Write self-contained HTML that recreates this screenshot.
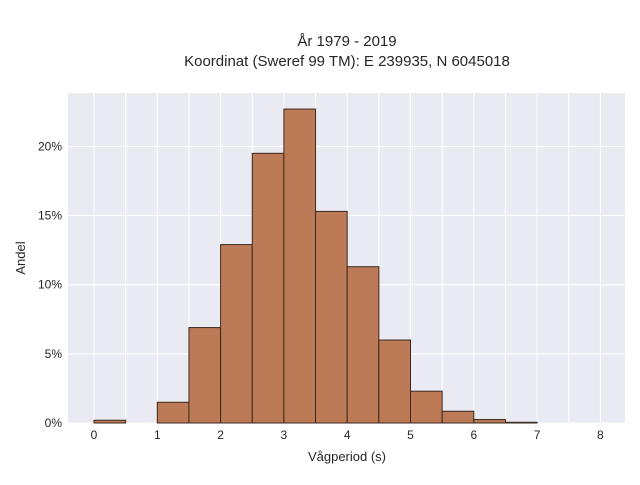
<!DOCTYPE html>
<html><head><meta charset="utf-8"><style>
body{margin:0;background:#fff;}
svg{font-family:"Liberation Sans",sans-serif;}
</style></head><body>
<svg id="c" width="640" height="480">
<text x="347" y="46" text-anchor="middle" font-size="15" fill="#262626">År 1979 - 2019</text>
<text x="347" y="66" text-anchor="middle" font-size="15" fill="#262626">Koordinat (Sweref 99 TM): E 239935, N 6045018</text>
<rect x="68" y="93" width="557" height="330" fill="#eaeaf2"/>
<g id="grid"></g><g id="bars"></g><g id="ticks"></g>
<text x="347" y="461" text-anchor="middle" font-size="13" fill="#262626">Vågperiod (s)</text>
<text transform="translate(25,258) rotate(-90)" text-anchor="middle" font-size="13" fill="#262626">Andel</text>
</svg>
<script>
const binStarts=[0,0.5,1,1.5,2,2.5,3,3.5,4,4.5,5,5.5,6,6.5];
const binShares=[0.2,0,1.5,6.9,12.9,19.5,22.7,15.3,11.3,6.0,2.3,0.85,0.25,0.05];
const xTicks=[0,1,2,3,4,5,6,7,8];
const yTicks=[0,5,10,15,20];
const binWidth=0.5;
const X=v=>94+v*63.3, Y=v=>423-v*13.83;
const ns="http://www.w3.org/2000/svg";
function mk(t,a,p){const e=document.createElementNS(ns,t);for(const k in a)e.setAttribute(k,a[k]);p.appendChild(e);return e;}
const g=document.getElementById('grid'),b=document.getElementById('bars'),tk=document.getElementById('ticks');
for(let v=0;v<=8.5;v+=0.5){const l=mk('line',{x1:X(v),x2:X(v),y1:93,y2:423,stroke:'#fff','stroke-width':1},g);

}
yTicks.forEach(v=>{const l=mk('line',{x1:68,x2:625,y1:Y(v),y2:Y(v),stroke:'#fff','stroke-width':1},g);


const t=mk('text',{x:62,y:Y(v)+4,'text-anchor':'end','font-size':12,fill:'#262626'},tk);t.textContent=v+'%';

});
xTicks.forEach(v=>{const t=mk('text',{x:X(v),y:439,'text-anchor':'middle','font-size':12,fill:'#262626'},tk);t.textContent=v;

});
binStarts.forEach((s,i)=>{const h=binShares[i];if(h<=0)return;
const r=mk('rect',{x:X(s),y:Y(h),width:X(s+binWidth)-X(s),height:Y(0)-Y(h),fill:'#bd7a56',stroke:'#3a2a20','stroke-width':1},b);

});
</script>
</body></html>
